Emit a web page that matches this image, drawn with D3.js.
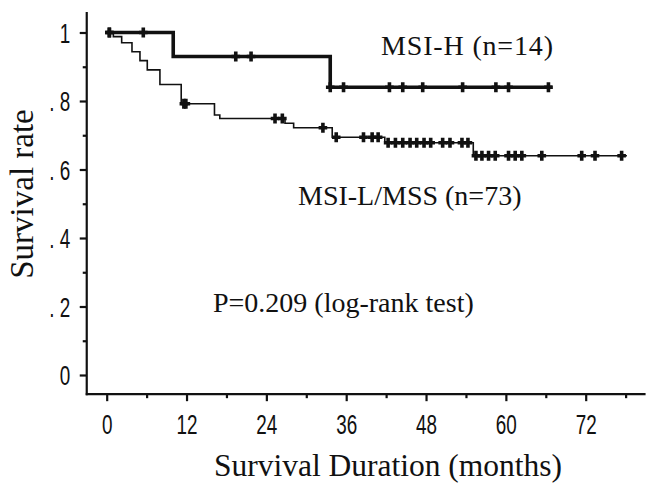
<!DOCTYPE html>
<html>
<head>
<meta charset="utf-8">
<script src="https://cdn.jsdelivr.net/npm/d3@7"></script>
<style>
html,body{margin:0;padding:0;background:#fff;}
svg{display:block;}
</style>
</head>
<body>
<svg id="chart" width="651" height="490"></svg>
<script>
// ---- data ----
const xTickValues = [0, 12, 24, 36, 48, 60, 72];
const xMinorTicks = [6, 18, 30, 42, 54, 66, 78];
const yTickValues = [0, 0.2, 0.4, 0.6, 0.8, 1];
const yTickLabels = ["0", ". 2", ". 4", ". 6", ". 8", "1"];
const yMinorTicks = [0.1, 0.3, 0.5, 0.7, 0.9];

// MSI-H (n=14): step times and survival after each step
const hTimes = [0, 10.0, 33.6, 67.0];
const hSurv  = [1.0, 0.93, 0.84, 0.84];
const hCensor = [0.4, 5.5, 19.4, 21.7, 33.6, 35.6, 42.5, 44.5, 47.5, 53.5, 58.5, 60.4, 66.4];

// MSI-L/MSS (n=73)
const lTimes = [0, 1.0, 2.25, 3.8, 5.0, 6.1, 8.0, 11.2, 16.2, 17.0, 26.8, 28.1, 33.9, 41.8, 55.1, 78.2];
const lSurv  = [1.0, 0.988, 0.970, 0.944, 0.918, 0.891, 0.848, 0.792, 0.759, 0.749, 0.735, 0.722, 0.694, 0.678, 0.640, 0.640];
const lCensor = [0.4, 11.6, 11.9, 25.3, 26.4, 32.5, 34.5, 38.6, 39.9, 40.8, 42.3, 43.4, 44.5, 45.6, 46.6, 47.7, 48.7,
                 50.5, 51.6, 53.4, 54.3, 55.5, 56.4, 57.4, 58.4, 60.4, 61.4, 62.4, 65.4, 71.4, 73.4, 77.4];

const labelH = "MSI-H (n=14)";
const labelL = "MSI-L/MSS (n=73)";
const pText = "P=0.209 (log-rank test)";
const xTitle = "Survival Duration (months)";
const yTitle = "Survival rate";

// ---- drawing ----
const svg = d3.select("#chart");
const x = d3.scaleLinear().domain([0, 72]).range([106.7, 585.7]);
const y = d3.scaleLinear().domain([0, 1]).range([375, 32.5]);
const ink = "#111";
const serif = "'Liberation Serif','Times New Roman',serif";
const sans = "'Liberation Sans',Arial,sans-serif";
const xAxisY = y(-0.056);
const yAxisX = x(-3);

// axis lines
svg.append("line").attr("x1", yAxisX).attr("x2", yAxisX)
  .attr("y1", y(1.06)).attr("y2", xAxisY + 1)
  .attr("stroke", ink).attr("stroke-width", 2.2);
svg.append("line").attr("x1", yAxisX - 1).attr("x2", x(81))
  .attr("y1", xAxisY).attr("y2", xAxisY)
  .attr("stroke", ink).attr("stroke-width", 2.2);

// x axis
const gx = svg.append("g").attr("transform", `translate(0,${xAxisY})`)
  .call(d3.axisBottom(x).tickValues(xTickValues).tickSize(7).tickFormat(d3.format("d")));
gx.select(".domain").remove();
gx.selectAll(".tick line").attr("stroke", ink).attr("stroke-width", 2.2);
gx.selectAll(".tick text").attr("fill", ink).attr("font-family", sans).attr("font-size", 27)
  .attr("y", 40).attr("dy", 0).attr("transform", "scale(0.7,1)");
const gxm = svg.append("g").attr("transform", `translate(0,${xAxisY})`)
  .call(d3.axisBottom(x).tickValues(xMinorTicks).tickSize(4).tickFormat(""));
gxm.select(".domain").remove();
gxm.selectAll(".tick line").attr("stroke", ink).attr("stroke-width", 2.2);

// y axis
const gy = svg.append("g").attr("transform", `translate(${yAxisX},0)`)
  .call(d3.axisLeft(y).tickValues(yTickValues).tickSize(7)
    .tickFormat((d, i) => yTickLabels[i]));
gy.select(".domain").remove();
gy.selectAll(".tick line").attr("stroke", ink).attr("stroke-width", 2.2);
gy.selectAll(".tick text").attr("fill", ink).attr("font-family", sans).attr("font-size", 27)
  .attr("x", -16.5 / 0.7).attr("dy", "0.36em").attr("transform", "scale(0.7,1)");
const gym = svg.append("g").attr("transform", `translate(${yAxisX},0)`)
  .call(d3.axisLeft(y).tickValues(yMinorTicks).tickSize(4).tickFormat(""));
gym.select(".domain").remove();
gym.selectAll(".tick line").attr("stroke", ink).attr("stroke-width", 2.2);

// curves
function pts(times, surv) { return times.map((t, i) => [t, surv[i]]); }
function survAt(times, surv, t) {
  let s = surv[0];
  for (let i = 0; i < times.length; i++) if (times[i] <= t) s = surv[i];
  return s;
}
const line = d3.line().x(d => x(d[0])).y(d => y(d[1])).curve(d3.curveStepAfter);

svg.append("path").datum(pts(lTimes, lSurv)).attr("d", line)
  .attr("fill", "none").attr("stroke", ink).attr("stroke-width", 1.6);
svg.append("path").datum(pts(hTimes, hSurv)).attr("d", line)
  .attr("fill", "none").attr("stroke", ink).attr("stroke-width", 3.6);

const cross = "M-4.3,0H4.3M0,-5V5";
function censors(list, times, surv) {
  svg.append("g").selectAll("path").data(list).join("path")
    .attr("d", cross)
    .attr("transform", d => `translate(${x(d)},${y(survAt(times, surv, d))})`)
    .attr("stroke", ink).attr("stroke-width", 3.6).attr("fill", "none");
}
censors(lCensor, lTimes, lSurv);
censors(hCensor, hTimes, hSurv);

// annotations
svg.append("text").attr("x", 381).attr("y", 55).text(labelH)
  .attr("font-family", serif).attr("font-size", 28).attr("fill", ink)
  .attr("textLength", 172).attr("lengthAdjust", "spacing");
svg.append("text").attr("x", 298).attr("y", 205).text(labelL)
  .attr("font-family", serif).attr("font-size", 28).attr("fill", ink);
svg.append("text").attr("x", 213).attr("y", 311.5).text(pText)
  .attr("font-family", serif).attr("font-size", 28).attr("fill", ink);

// axis titles
svg.append("text").attr("x", 388).attr("y", 476).attr("text-anchor", "middle").text(xTitle)
  .attr("font-family", serif).attr("font-size", 31.5).attr("fill", ink);
svg.append("text").attr("transform", "translate(33,194) rotate(-90)")
  .attr("text-anchor", "middle").text(yTitle)
  .attr("font-family", serif).attr("font-size", 33).attr("fill", ink);
</script>
</body>
</html>
